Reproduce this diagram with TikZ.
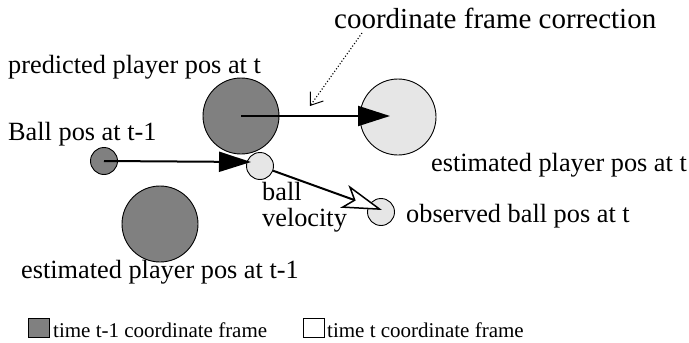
\documentclass[tikz,border=0pt]{standalone}
\usepackage{fontspec}
\setmainfont{Liberation Serif}
\usetikzlibrary{arrows.meta,calc}
\definecolor{darkg}{HTML}{808080}
\definecolor{lightg}{HTML}{E6E6E6}
\begin{document}
\begin{tikzpicture}[x=1pt,y=-1pt,
  lbl/.style={anchor=base west,inner sep=0pt,font=\fontsize{26.3}{28}\selectfont},
  leg/.style={anchor=base west,inner sep=0pt,font=\fontsize{21}{23}\selectfont},
  dball/.style={circle,draw,line width=0.9pt,fill=darkg,inner sep=0pt},
  lball/.style={circle,draw,line width=0.9pt,fill=lightg,inner sep=0pt},
  bigarrow/.style={line width=2pt,-{Triangle[length=32pt,width=20pt]}},
  velarrow/.style={line width=2pt,-{Stealth[length=40pt,width=24pt,inset=10pt,fill=white,line width=1.5pt]}},
  corrarrow/.style={line width=1.1pt,dotted,-{Straight Barb[length=11pt,width=16pt,line width=1pt]}}
]
\useasboundingbox (0,0) rectangle (689,343);
% circles
\node[dball,minimum size=76pt] (pp) at (241,116) {};
\node[lball,minimum size=76pt] (pe) at (398,117) {};
\node[dball,minimum size=76pt] (po) at (160,224) {};
\node[dball,minimum size=27pt] (bo) at (104,161) {};
\node[lball,minimum size=27pt] (bp) at (260,166) {};
\node[lball,minimum size=27pt] (bn) at (381,212) {};
% arrow end points
\coordinate (petip) at (390,116);
\coordinate (bptip) at (251,162);
\coordinate (bntip) at (382,210);
\coordinate (cstart) at (362,33);
\coordinate (cend) at (310,106);
% arrows
\draw[bigarrow] (pp.center) -- (petip);
\draw[bigarrow] (bo.center) -- (bptip);
\draw[velarrow] (bp) -- (bntip);
\draw[corrarrow] (cstart) -- (cend);
% labels
\node[lbl,font=\fontsize{29}{31}\selectfont] (tcorr) at (334,28) {coordinate frame correction};
\node[lbl] (tpp) at (8,73) {predicted player pos at t};
\node[lbl] (tbo) at (8,140) {Ball pos at t-1};
\node[lbl] (tpe) at (431,171) {estimated player pos at t};
\node[lbl] (tb1) at (262,200) {ball};
\node[lbl] (tb2) at (262,226) {velocity};
\node[lbl] (tbn) at (406,222) {observed ball pos at t};
\node[lbl] (tpo) at (21,278) {estimated player pos at t-1};
% legend
\node[draw,line width=0.9pt,fill=darkg,minimum width=21pt,minimum height=19pt,inner sep=0pt] (sq1) at (39,328) {};
\node[leg] (leg1) at (53,337) {time t-1 coordinate frame};
\node[draw,line width=0.9pt,fill=white,minimum width=21pt,minimum height=19pt,inner sep=0pt] (sq2) at (314,328) {};
\node[leg] (leg2) at (327,337) {time t coordinate frame};
\end{tikzpicture}
\end{document}
